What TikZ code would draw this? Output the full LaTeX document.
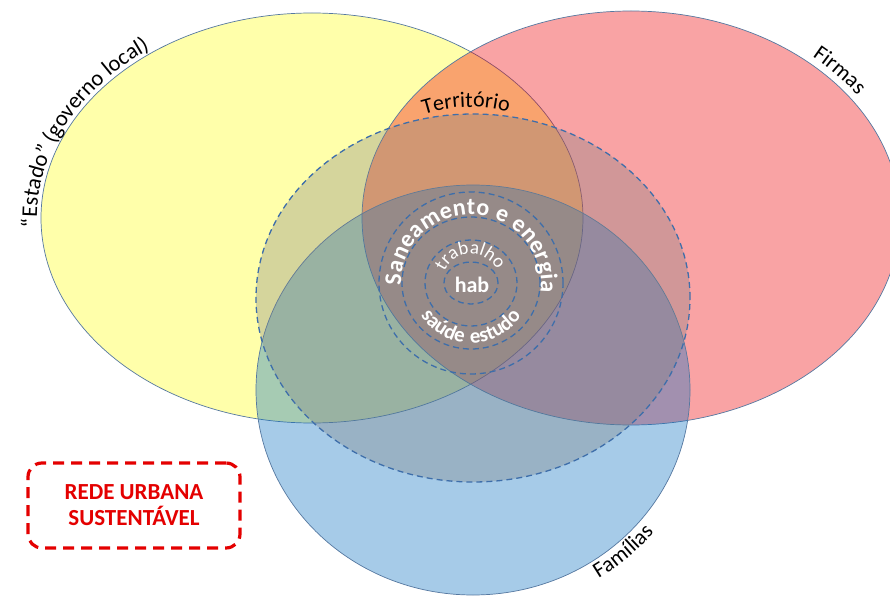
\documentclass[tikz,border=0pt]{standalone}
\usepackage{fontspec}
\setmainfont{Carlito}
\usetikzlibrary{decorations.text}
\definecolor{yel}{RGB}{255,255,20}
\definecolor{rd}{RGB}{241,0,5}
\definecolor{bl}{RGB}{14,114,195}
\definecolor{gr}{RGB}{128,128,128}
\definecolor{edgec}{RGB}{85,120,160}
\definecolor{dashblue}{RGB}{62,110,170}
\definecolor{boxred}{RGB}{228,0,0}
\begin{document}
\begin{tikzpicture}[x=1pt,y=1pt,
  venn/.style={draw=edgec, line width=0.7pt},
  ring/.style={draw=dashblue, line width=1.3pt, dash pattern=on 6pt off 4pt},
  curvetext/.style={decorate, decoration={text along path, text={#1}, text align=center}},
  fittext/.style={decorate, decoration={text along path, text={#1}, text align=fit to path, text color=white}},
  wtext/.style={decorate, decoration={text along path, text={#1}, text align=center, text color=white}},
  boxstyle/.style={draw=boxred, line width=3.2pt, dash pattern=on 11pt off 7pt, rounded corners=14pt,
     minimum width=212pt, minimum height=85pt, align=center, text=boxred,
     font=\fontsize{23}{26}\selectfont\bfseries}
]
\useasboundingbox (0,0) rectangle (890,595);
\fill[white] (0,0) rectangle (890,595);
\coordinate (yc) at (312,377);
\coordinate (rc) at (631,377);
\coordinate (bc) at (473,205);
\coordinate (tc) at (473,297);
\coordinate (cc) at (471,312);
\coordinate (terc) at (470,338);
% sets
\path[venn, fill=yel, fill opacity=0.36] (yc) ellipse [x radius=271, y radius=205];
\path[venn, fill=rd, fill opacity=0.36] (rc) ellipse [x radius=269, y radius=207];
\path[venn, fill=bl, fill opacity=0.37] (bc) ellipse [x radius=217, y radius=205];
\path[fill=gr, fill opacity=0.33] (tc) ellipse [x radius=217, y radius=184];
\path[ring] (tc) ellipse [x radius=217, y radius=184];
% inner rings
\path[ring] (cc) ellipse [x radius=27, y radius=21];
\path[ring] (cc) ellipse [x radius=46, y radius=43];
\path[ring] (cc) ellipse [x radius=69, y radius=66];
\path[ring] (cc) ellipse [x radius=92, y radius=91];
% inner texts
\node[text=white, font=\fontsize{22}{26}\selectfont\bfseries] (hab) at (472,310) {hab};
\path[fittext={|\fontsize{24}{28}\selectfont\bfseries|Saneamento e energia}]
  (cc) ++(182:70 and 68) arc[start angle=182, end angle=-8, x radius=70, y radius=68];
\path[wtext={|\fontsize{19}{23}\selectfont|trabalho}]
  (cc) ++(175:29) arc[start angle=175, end angle=8, radius=29];
\path[wtext={|\fontsize{21}{25}\selectfont\bfseries|saúde}]
  (cc) ++(203:60) arc[start angle=203, end angle=273, radius=60];
\path[wtext={|\fontsize{21}{25}\selectfont\bfseries|estudo}]
  (cc) ++(258:60) arc[start angle=258, end angle=338, radius=60];
% outer labels
\path[decorate, decoration={text along path, text={|\fontsize{22.5}{27}\selectfont|“Estado” (governo local)}, text align=left}]
  (yc) ++(182.5:275 and 209) arc[start angle=182.5, end angle=90, x radius=275, y radius=209];
\path[curvetext={|\fontsize{22}{26}\selectfont|Firmas}]
  (rc) ++(57:276 and 214) arc[start angle=57, end angle=26, x radius=276, y radius=214];
\path[curvetext={|\fontsize{22}{26}\selectfont|Famílias}]
  (bc) ++(-69:235 and 223) arc[start angle=-69, end angle=-28, x radius=235, y radius=223];
\path[curvetext={|\fontsize{22}{26}\selectfont|Território}]
  (terc) ++(115:150) arc[start angle=115, end angle=68, radius=150];
% box
\node[boxstyle] (rede) at (134,89.5) {REDE URBANA\\SUSTENTÁVEL};
\end{tikzpicture}
\end{document}
